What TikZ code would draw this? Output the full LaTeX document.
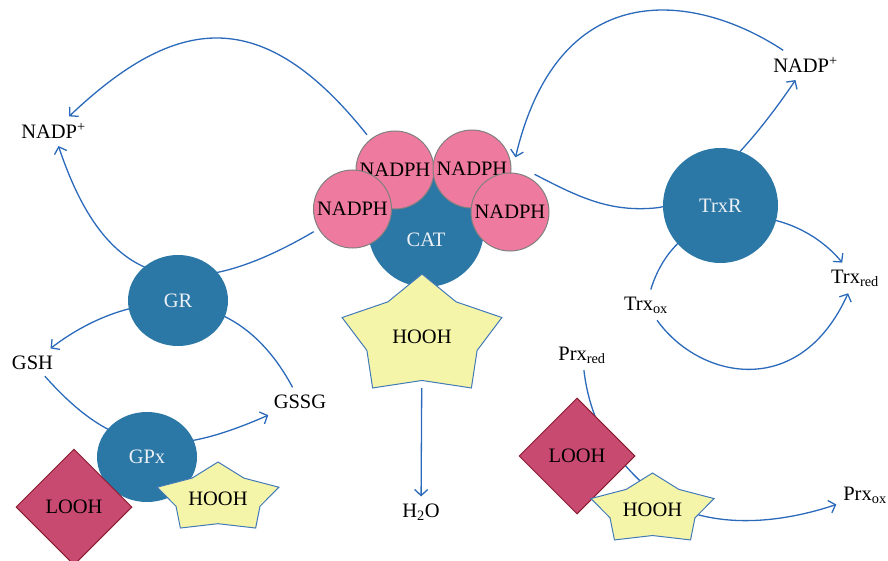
\documentclass[tikz,border=0pt]{standalone}
\usepackage{fontspec}
\setmainfont{Liberation Serif}
\usetikzlibrary{shapes.geometric,arrows.meta,backgrounds}

\definecolor{enzymeBlue}{RGB}{43,119,166}
\definecolor{enzymeText}{RGB}{236,241,246}
\definecolor{cofactorPink}{RGB}{239,122,159}
\definecolor{lipidRed}{RGB}{201,74,112}
\definecolor{lipidEdge}{RGB}{138,30,48}
\definecolor{starYellow}{RGB}{245,245,170}
\definecolor{starEdge}{RGB}{66,122,184}
\definecolor{flowBlue}{RGB}{43,106,186}

%% star of peroxide: name, centre x, centre y, x radius, y radius
\newcommand{\hoohstar}[5]{%
  \filldraw[starDecorate,shift={(#2,#3)},xscale=#4,yscale=#5]
    (0,-1) -- (0.406,-0.558) -- (0.951,-0.309) -- (0.656,0.213)
    -- (0.588,0.809) -- (0,0.69) -- (-0.588,0.809) -- (-0.656,0.213)
    -- (-0.951,-0.309) -- (-0.406,-0.558) -- cycle;
  \node[inner sep=0pt,minimum width={1.902*#4pt},minimum height={1.618*#5pt}]
    (#1) at (#2,#3) {HOOH};
}

\begin{document}
\begin{tikzpicture}
[x=1pt,y=-1pt,font=\fontsize{20.5}{24}\selectfont,
  flowDecorate/.style={-{Straight Barb[length=6pt,width=13pt]},flowBlue,line width=1.3pt},%
  enzymeDecorate/.style={shape=ellipse,fill=enzymeBlue,text=enzymeText,inner sep=0pt},%
  cofactorDecorate/.style={shape=circle,fill=cofactorPink,draw=gray,line width=1pt,
    minimum size=78pt,inner sep=0pt,outer sep=6pt},%
  lipidDecorate/.style={shape=diamond,fill=lipidRed,draw=lipidEdge,line width=1pt,
    minimum width=116pt,minimum height=116pt,inner sep=0pt},%
  starDecorate/.style={fill=starYellow,draw=starEdge,line width=1pt},%
  textDecorate/.style={inner sep=3pt,outer sep=4pt,anchor=base}]
\useasboundingbox (0,0) rectangle (888,561);
%% enzymes
\node (cat) at (426,229) [enzymeDecorate,minimum width=116pt,minimum height=116pt,
  label={[text=enzymeText,yshift=-11pt]center:CAT}] {};
\node (gr) at (178,300.5) [enzymeDecorate,minimum width=100pt,minimum height=91pt] {GR};
\node (gpx) at (147,457) [enzymeDecorate,minimum width=100pt,minimum height=90pt] {GPx};
\node (trxr) at (720.5,205.5) [enzymeDecorate,minimum width=115pt,minimum height=115pt] {TrxR};
%% cofactors round the catalase
\foreach \nodename/\x/\y in {
  nadphA/395/170, nadphB/472/169, nadphC/352.5/209, nadphD/510/212}
{
  \node (\nodename) at (\x,\y) [cofactorDecorate] {NADPH};
}
%% peroxides
\node (loohG) at (74,507) [lipidDecorate] {LOOH};
\hoohstar{hoohG}{218}{498.5}{64}{36.5}
\hoohstar{hoohC}{422}{337}{84}{63}
\node (loohP) at (577,456) [lipidDecorate] {LOOH};
\hoohstar{hoohP}{652.5}{510}{64.7}{37}
%% substrates and products
\foreach \nodename/\x/\y/\name in {
  nadpL/53.5/139/{NADP\textsuperscript{+}}, nadpR/805.5/73/{NADP\textsuperscript{+}},
  gsh/32.5/369/GSH, gssg/300/408/GSSG, h2o/421/517/{H\textsubscript{2}O},
  trxRed/855/283/{Trx\textsubscript{red}}, trxOx/646/310/{Trx\textsubscript{ox}},
  prxRed/582/360/{Prx\textsubscript{red}}, prxOx/865/500/{Prx\textsubscript{ox}}}
{
  \node (\nodename) at (\x,\y) [textDecorate] {\name};
}
%% reactions
\begin{scope}[on background layer]
\draw[flowDecorate] (nadphA) .. controls (262,3) and (176,15) .. (nadpL);
\draw[flowDecorate] (nadphC) .. controls (180,310) and (105,285) .. (nadpL);
\draw[flowDecorate] (gssg) .. controls (230,270) and (120,295) .. (gsh);
\draw[flowDecorate] (gsh) .. controls (115,455) and (168,459) .. (gssg);
\draw[flowDecorate] (hoohC) -- (h2o);
\draw[flowDecorate] (nadphD.57) .. controls (580,198) and (610,212) .. (655,208)
  .. controls (700,204) and (755,140) .. (nadpR);
\draw[flowDecorate] (nadpR) .. controls (700,-5) and (560,-30) .. (nadphB.15);
\draw[flowDecorate] (trxOx) .. controls (680,195) and (790,200) .. (trxRed);
\draw[flowDecorate] (trxOx) .. controls (700,380) and (800,400) .. (trxRed);
\draw[flowDecorate] (prxRed) .. controls (590,420) and (610,455) .. (650,490)
  .. controls (690,525) and (760,530) .. (prxOx);
\end{scope}
\end{tikzpicture}
\end{document}
